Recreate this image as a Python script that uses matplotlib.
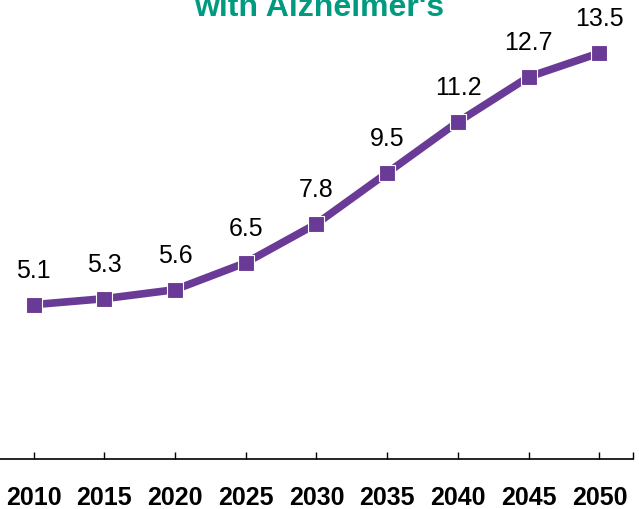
import numpy as np
import matplotlib
matplotlib.use('Agg')
import matplotlib.pyplot as plt

plt.rcParams['font.family'] = ['Liberation Sans', 'DejaVu Sans']

years = [2010, 2015, 2020, 2025, 2030, 2035, 2040, 2045, 2050]
millions = [5.1, 5.3, 5.6, 6.5, 7.8, 9.5, 11.2, 12.7, 13.5]
title = "with Alzheimer's"

purple = '#6a3b96'
teal = '#009a80'

fig = plt.figure(figsize=(6.39, 5.10), dpi=100)
ax = fig.add_axes([0.0, 1 - 460 / 510, 633 / 639, 460 / 510])

ax.plot(years, millions, color=purple, linewidth=5.5, marker='s', markersize=11,
        markerfacecolor=purple, markeredgecolor='white', markeredgewidth=0.8)

for x, v in zip(years, millions):
    ax.annotate(f'{v:.1f}', (x, v), xytext=(0, 25), textcoords='offset points',
                ha='center', va='center', fontsize=18, color='black')

ax.set_xlim(2007.63, 2052.37)
ax.set_ylim(-0.05, 15.3)
ax.set_xticks(years)
ax.set_xticks([2052.37], minor=True)
ax.set_xticklabels([str(y) for y in years], fontsize=18, fontweight='bold')
ax.tick_params(axis='x', which='both', direction='in', length=5, width=1,
               pad=19, color='black')
ax.set_yticks([])
for s in ['left', 'right', 'top']:
    ax.spines[s].set_visible(False)
ax.spines['bottom'].set_linewidth(1.2)
ax.patch.set_alpha(0)

fig.text(0.5, 1 - 16 / 510, title, ha='center', va='baseline',
         fontsize=23, fontweight='bold', color=teal)

fig.savefig('out.png', dpi=100)
